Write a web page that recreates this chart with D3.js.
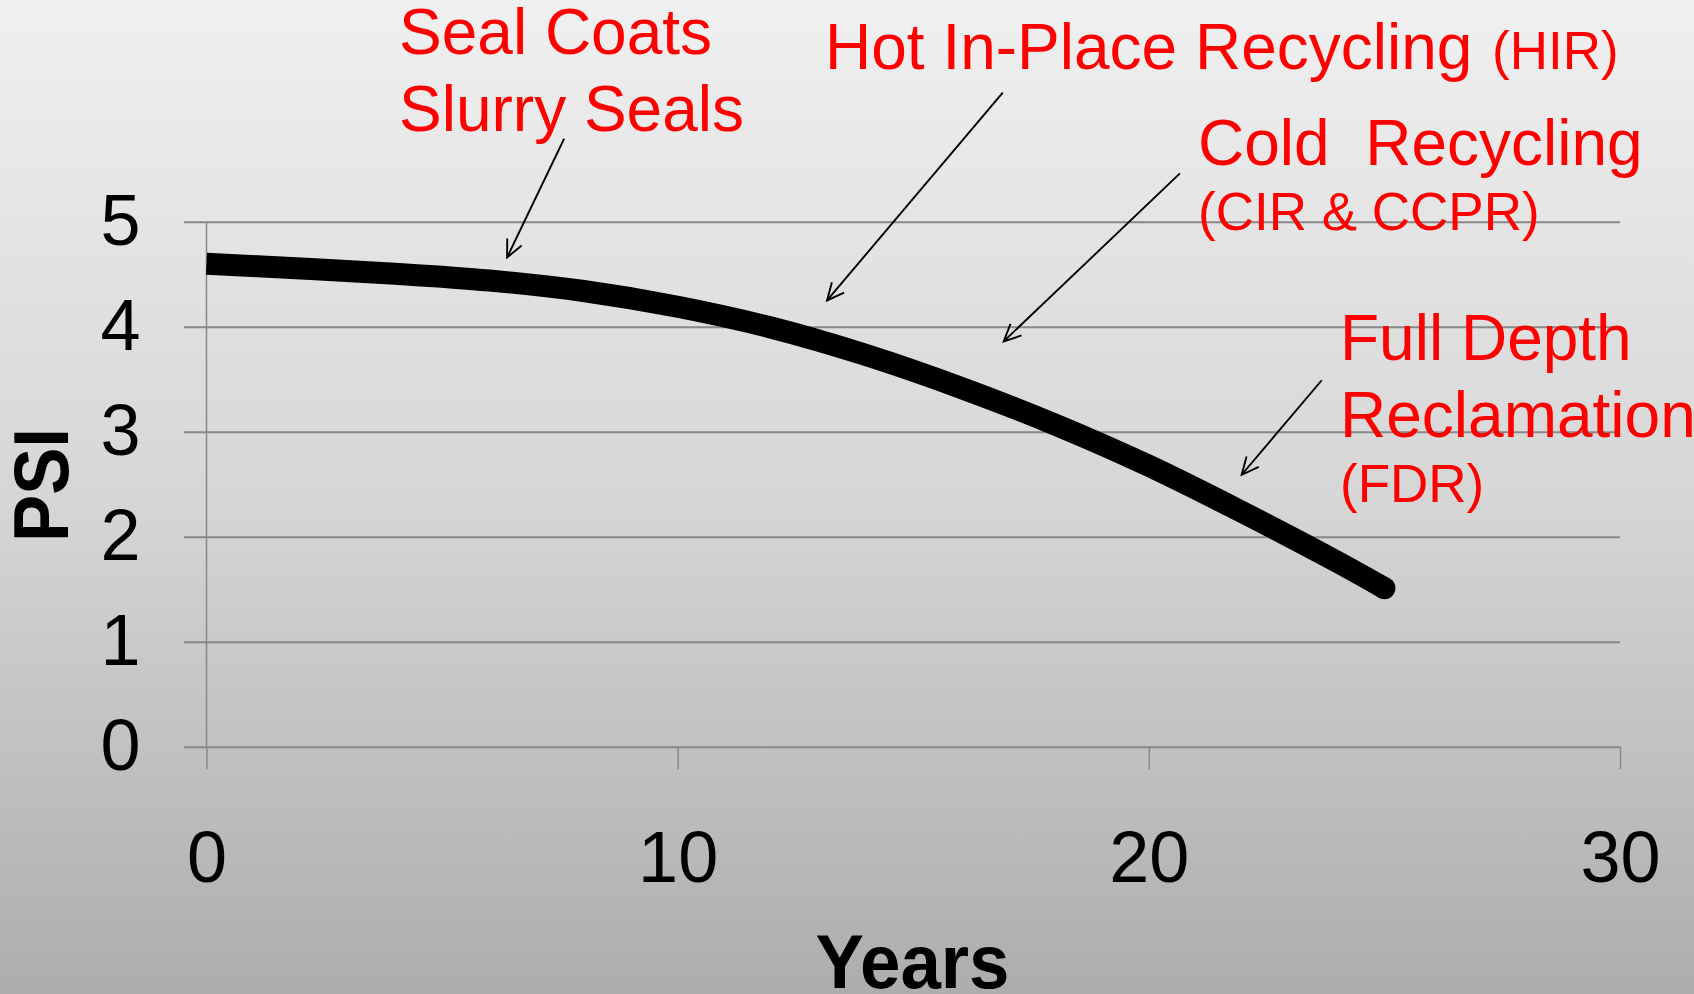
<!DOCTYPE html>
<html lang="en">
<head>
<meta charset="UTF-8">
<title>PSI over years</title>
<script src="https://cdn.jsdelivr.net/npm/d3@7"></script>
<style>
  body { margin: 0; }
  svg { display: block; }
</style>
</head>
<body>
<script>
// data
var years = [0, 2, 4, 6, 8, 10, 12, 14, 16, 18, 20, 22, 24, 25];
var psi = [4.60, 4.555, 4.505, 4.44, 4.34, 4.19, 3.99, 3.73, 3.42, 3.07, 2.675, 2.23, 1.76, 1.51];
var xTicks = [0, 10, 20, 30];
var yTicks = [0, 1, 2, 3, 4, 5];

// annotation arrows, in chart units (years, PSI): from -> to
var arrowFrom = [[7.59, 5.79], [16.90, 6.23], [20.66, 5.46], [23.67, 3.49]];
var arrowTo = [[6.38, 4.66], [13.17, 4.25], [16.92, 3.86], [21.97, 2.59]];

var width = 1694;
var height = 994;
var plot = { left: 206.5, right: 1620, top: 221.7, bottom: 746.7 };
var font = '"Liberation Sans", Arial, sans-serif';

var svg = d3.select('body')
    .append('svg')
    .attr('width', width)
    .attr('height', height);

// background gradient
var defs = svg.append('defs');
var grad = defs.append('linearGradient')
    .attr('id', 'bg')
    .attr('x1', 0).attr('y1', 0).attr('x2', 0).attr('y2', 1);
grad.append('stop').attr('offset', '0%').attr('stop-color', '#f0f0f0');
grad.append('stop').attr('offset', '50%').attr('stop-color', '#d6d6d6');
grad.append('stop').attr('offset', '100%').attr('stop-color', '#adadad');

defs.append('marker')
    .attr('id', 'head')
    .attr('viewBox', '-20 -10 22 20')
    .attr('refX', 0).attr('refY', 0)
    .attr('markerWidth', 22).attr('markerHeight', 20)
    .attr('markerUnits', 'userSpaceOnUse')
    .attr('orient', 'auto')
    .append('path')
    .attr('d', 'M-17,-8L0,0L-17,8')
    .attr('fill', 'none')
    .attr('stroke', '#000')
    .attr('stroke-width', 1.9);

svg.append('rect')
    .attr('width', width)
    .attr('height', height)
    .attr('fill', 'url(#bg)');

var x = d3.scaleLinear().domain([0, 30]).range([plot.left, plot.right]);
var y = d3.scaleLinear().domain([0, 5]).range([plot.bottom, plot.top]);

// horizontal gridlines + y labels
var yAxis = svg.append('g')
    .attr('transform', 'translate(184,0)')
    .call(d3.axisLeft(y).tickValues(yTicks).tickFormat(d3.format('d'))
        .tickSize(-(plot.right - 184)).tickPadding(43.5));
yAxis.select('.domain').remove();
yAxis.selectAll('line').attr('stroke', '#888').attr('stroke-width', 2);
yAxis.selectAll('text')
    .attr('fill', '#000')
    .style('font-family', font)
    .style('font-size', '72px');

// x ticks + labels
var xAxis = svg.append('g')
    .attr('transform', 'translate(0,' + plot.bottom + ')')
    .call(d3.axisBottom(x).tickValues(xTicks).tickSize(22.5).tickPadding(61.4));
xAxis.select('.domain').remove();
xAxis.selectAll('line').attr('stroke', '#888').attr('stroke-width', 1.5);
xAxis.selectAll('text')
    .attr('fill', '#000')
    .style('font-family', font)
    .style('font-size', '72px');

// vertical axis line
svg.append('line')
    .attr('x1', x(0)).attr('x2', x(0))
    .attr('y1', y(5)).attr('y2', y(0))
    .attr('stroke', '#888')
    .attr('stroke-width', 1.5);

// axis titles
svg.append('text')
    .attr('transform', 'translate(68,485) rotate(-90)')
    .attr('text-anchor', 'middle')
    .attr('textLength', 114)
    .attr('lengthAdjust', 'spacingAndGlyphs')
    .style('font-family', font)
    .style('font-weight', 'bold')
    .style('font-size', '77px')
    .text('PSI');

svg.append('text')
    .attr('x', 912.5)
    .attr('y', 988)
    .attr('text-anchor', 'middle')
    .attr('textLength', 194)
    .attr('lengthAdjust', 'spacingAndGlyphs')
    .style('font-family', font)
    .style('font-weight', 'bold')
    .style('font-size', '76px')
    .text('Years');

// the curve
var pts = years.map(function(d, i) { return [d, psi[i]]; });
var line = d3.line()
    .x(function(d) { return x(d[0]); })
    .y(function(d) { return y(d[1]); })
    .curve(d3.curveCatmullRom);

svg.append('path')
    .datum(pts)
    .attr('d', line)
    .attr('fill', 'none')
    .attr('stroke', '#000')
    .attr('stroke-width', 22);

svg.append('circle')
    .attr('cx', x(years[years.length - 1]))
    .attr('cy', y(psi[psi.length - 1]))
    .attr('r', 11)
    .attr('fill', '#000');

// arrows
svg.selectAll('line.arrow')
    .data(arrowFrom)
    .enter()
    .append('line')
    .attr('class', 'arrow')
    .attr('x1', function(d) { return x(d[0]); })
    .attr('y1', function(d) { return y(d[1]); })
    .attr('x2', function(d, i) { return x(arrowTo[i][0]); })
    .attr('y2', function(d, i) { return y(arrowTo[i][1]); })
    .attr('stroke', '#000')
    .attr('stroke-width', 1.9)
    .attr('marker-end', 'url(#head)');

// red annotation labels
var labels = [
    { t: 'Seal Coats', x: 399, y: 54, s: 64 },
    { t: 'Slurry Seals', x: 399, y: 131, s: 64 },
    { t: 'Hot In-Place Recycling', x: 825, y: 69, s: 64 },
    { t: '(HIR)', x: 1492, y: 69, s: 53 },
    { t: 'Cold  Recycling', x: 1198, y: 165, s: 64 },
    { t: '(CIR & CCPR)', x: 1198, y: 230, s: 53 },
    { t: 'Full Depth', x: 1340, y: 360, s: 64 },
    { t: 'Reclamation', x: 1340, y: 437, s: 64 },
    { t: '(FDR)', x: 1340, y: 502, s: 53 }
];
svg.selectAll('text.note')
    .data(labels)
    .enter()
    .append('text')
    .attr('class', 'note')
    .attr('x', function(d) { return d.x; })
    .attr('y', function(d) { return d.y; })
    .attr('fill', '#ff0000')
    .style('white-space', 'pre')
    .style('font-family', font)
    .style('font-size', function(d) { return d.s + 'px'; })
    .text(function(d) { return d.t; });
</script>
</body>
</html>
